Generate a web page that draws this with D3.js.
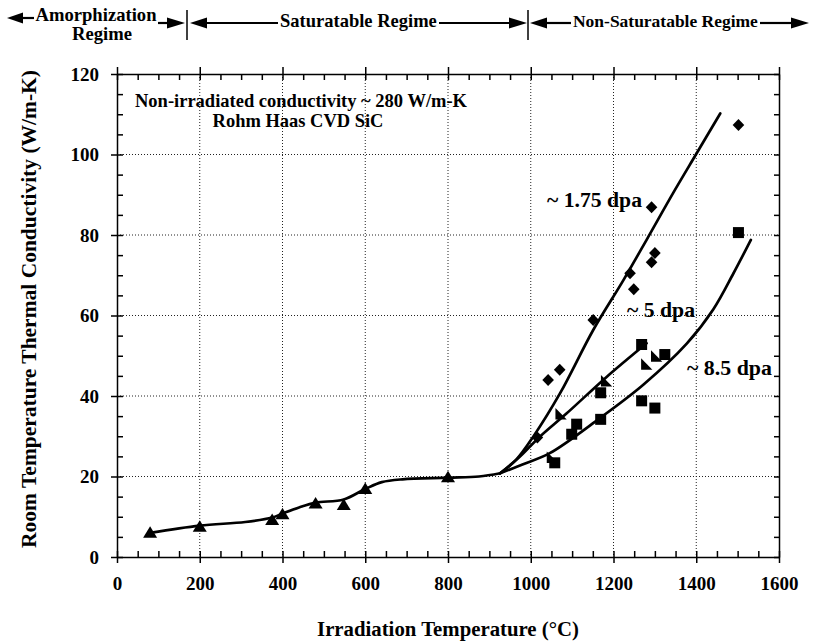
<!DOCTYPE html>
<html><head><meta charset="utf-8">
<script src="https://cdnjs.cloudflare.com/ajax/libs/d3/7.8.5/d3.min.js"></script>
<style>body{margin:0;background:#fff}svg{display:block}</style>
</head><body>
<svg id="c" width="813" height="642"></svg>
<script>
// ---------- data ----------
const xTicks = [0,200,400,600,800,1000,1200,1400,1600];
const yTicks = [0,20,40,60,80,100,120];
// Saturatable regime (measured points, triangles)
const satPoints = [[80,6.0],[200,7.5],[375,9.2],[400,10.6],[480,13.3],[548,12.9],[600,16.9],[800,19.8]];
// Saturatable fit curve
const satCurve = [[80,6.0],[200,7.8],[310,8.7],[375,9.8],[400,10.8],[440,12.3],[480,13.5],[548,14.3],[600,16.9],[640,18.6],[690,19.3],[800,19.7],[875,20.0],[926,20.8]];
// Non-saturatable regime curves
const curve175 = [[926,20.8],[965,24.2],[1006,29.9],[1071,40.7],[1151,56.4],[1224,68.8],[1280,78.8],[1344,90.4],[1401,100.3],[1458,110.2]];
const curve5 = [[926,20.8],[970,24.6],[1022,29.9],[1087,35.7],[1184,44.8],[1280,53.1]];
const curve85 = [[926,20.8],[980,23.0],[1046,25.8],[1167,34.5],[1272,42.8],[1377,53.0],[1441,61.5],[1490,70.5],[1532,78.8]];
// Non-saturatable data
const diamonds = [[1016,29.7],[1042,44.0],[1070,46.5],[1151,58.9],[1240,70.5],[1249,66.5],[1292,73.2],[1300,75.5],[1292,86.9],[1502,107.3]];
const squares = [[1058,23.4],[1099,30.5],[1111,33.0],[1169,34.2],[1169,40.8],[1268,52.8],[1324,50.3],[1268,38.8],[1300,37.0],[1502,80.6]];
const triangles5 = [[1052,24.7],[1073,35.5],[1183,43.7],[1280,47.9],[1304,49.9]];
const curveLabels = ["~ 1.75 dpa","~ 5 dpa","~ 8.5 dpa"];
const noteLines = ["Non-irradiated conductivity ~ 280 W/m-K","Rohm Haas CVD SiC"];
const regimes = ["Amorphization","Regime","Saturatable Regime","Non-Saturatable Regime"];
const xTitle = "Irradiation Temperature (°C)";
const yTitle = "Room Temperature Thermal Conductivity (W/m-K)";

// ---------- layout ----------
const FONT = "'Liberation Serif', 'Times New Roman', serif";
const svg = d3.select("#c");
const L=117, R=779, T=74, B=557;
const x = d3.scaleLinear().domain([0,1600]).range([L,R]);
const y = d3.scaleLinear().domain([0,120]).range([B,T]);

function fit(sel, w){
  const l = sel.node().getComputedTextLength();
  const fs = parseFloat(sel.attr("font-size"));
  sel.attr("font-size", (fs*w/l).toFixed(2));
  return sel;
}
function txt(g, s, px, py, fs, anchor){
  return g.append("text").attr("x",px).attr("y",py).attr("font-family",FONT)
    .attr("font-weight","bold").attr("font-size",fs).attr("text-anchor",anchor||"start")
    .attr("fill","#000").text(s);
}

// gridlines
const grid = svg.append("g");
grid.selectAll("line.v").data(xTicks.filter(d=>d>0&&d<1600)).join("line")
  .attr("x1",d=>x(d)).attr("x2",d=>x(d)).attr("y1",T).attr("y2",B)
  .attr("stroke","#222").attr("stroke-width",1).attr("stroke-dasharray","1,2");
grid.selectAll("line.h").data(yTicks.filter(d=>d>0&&d<120)).join("line")
  .attr("y1",d=>y(d)).attr("y2",d=>y(d)).attr("x1",L).attr("x2",R)
  .attr("stroke","#222").attr("stroke-width",1).attr("stroke-dasharray","1,2");

// axes
const minorX = d3.range(0,1601,50).filter(d=>d%200!==0);
const minorY = d3.range(0,121,5).filter(d=>d%20!==0);
function styleAxis(g){ g.select(".domain").attr("stroke","#000").attr("stroke-width",1.5);
  g.selectAll(".tick line").attr("stroke","#000").attr("stroke-width",1.5); }

const gB = svg.append("g").attr("transform",`translate(0,${B})`)
  .call(d3.axisBottom(x).tickValues(xTicks).tickSize(6).tickPadding(14).tickSizeOuter(0).tickFormat(d3.format("d")));
gB.selectAll(".tick line").attr("y1",-6);
gB.selectAll(".tick text").attr("font-family",FONT).attr("font-weight","bold").attr("font-size",19).attr("fill","#000");
styleAxis(gB);
svg.append("g").attr("transform",`translate(0,${B})`)
  .call(d3.axisBottom(x).tickValues(minorX).tickSize(-6).tickFormat("").tickSizeOuter(0))
  .call(g=>{g.select(".domain").remove(); g.selectAll("line").attr("stroke","#000").attr("stroke-width",1.5);});

const gT = svg.append("g").attr("transform",`translate(0,${T})`)
  .call(d3.axisTop(x).tickValues(xTicks).tickSize(7).tickFormat("").tickSizeOuter(0));
gT.selectAll(".tick line").attr("y1",6);
styleAxis(gT);
svg.append("g").attr("transform",`translate(0,${T})`)
  .call(d3.axisTop(x).tickValues(minorX).tickSize(-6).tickFormat("").tickSizeOuter(0))
  .call(g=>{g.select(".domain").remove(); g.selectAll("line").attr("stroke","#000").attr("stroke-width",1.5);});

const gL = svg.append("g").attr("transform",`translate(${L},0)`)
  .call(d3.axisLeft(y).tickValues(yTicks).tickSize(6).tickPadding(12).tickSizeOuter(0).tickFormat(d3.format("d")));
gL.selectAll(".tick line").attr("x1",6);
gL.selectAll(".tick text").attr("font-family",FONT).attr("font-weight","bold").attr("font-size",19).attr("fill","#000");
styleAxis(gL);
svg.append("g").attr("transform",`translate(${L},0)`)
  .call(d3.axisLeft(y).tickValues(minorY).tickSize(-6).tickFormat("").tickSizeOuter(0))
  .call(g=>{g.select(".domain").remove(); g.selectAll("line").attr("stroke","#000").attr("stroke-width",1.5);});

const gR = svg.append("g").attr("transform",`translate(${R},0)`)
  .call(d3.axisRight(y).tickValues(d3.range(0,121,5)).tickSize(-5).tickFormat("").tickSizeOuter(0));
styleAxis(gR);

// curves
const line = d3.line().x(d=>x(d[0])).y(d=>y(d[1])).curve(d3.curveCatmullRom.alpha(0.5));
const curves = svg.append("g").attr("fill","none").attr("stroke","#000").attr("stroke-width",2.7)
  .attr("stroke-linejoin","round").attr("stroke-linecap","round");
[satCurve, curve175, curve5, curve85].forEach(c=>curves.append("path").attr("d",line(c)));

// markers
const shapes = {
  triUp: "M0,-6.5L7,5L-7,5Z",
  diamond: "M0,-6L5.8,0L0,6L-5.8,0Z",
  square: "M-5.5,-5.5H5.5V5.5H-5.5Z",
  triCorner: "M-5.5,-6L5.8,5.5L-5.5,5.5Z"
};
function marks(data, shape){
  svg.append("g").selectAll("path").data(data).join("path")
    .attr("d",shapes[shape]).attr("fill","#000")
    .attr("transform",d=>`translate(${x(d[0])},${y(d[1])})`);
}
marks(satPoints,"triUp");
marks(diamonds,"diamond");
marks(squares,"square");
marks(triangles5,"triCorner");

// curve labels
const lab = svg.append("g");
fit(txt(lab, curveLabels[0], 547, 207, 17), 95);
fit(txt(lab, curveLabels[1], 627, 317, 17), 68);
fit(txt(lab, curveLabels[2], 687, 375, 17), 85);

// note
fit(txt(svg, noteLines[0], 301, 107, 18, "middle"), 332);
fit(txt(svg, noteLines[1], 298, 127, 18, "middle"), 171);

// axis titles
fit(txt(svg, xTitle, (L+R)/2, 636, 20, "middle"), 262);
const yt = txt(svg, yTitle, 0, 0, 18.5, "middle").attr("transform","translate(36,309) rotate(-90)");
fit(yt, 478);

// regime header
const hdr = svg.append("g");
function hline(x1,x2,yy){ hdr.append("line").attr("x1",x1).attr("x2",x2).attr("y1",yy).attr("y2",yy).attr("stroke","#000").attr("stroke-width",2.2); }
function head(tip, base, yy){ hdr.append("path").attr("d",`M${tip},${yy}L${base},${yy-5.5}L${base},${yy+5.5}Z`).attr("fill","#000"); }
function vline(xx){ hdr.append("line").attr("x1",xx).attr("x2",xx).attr("y1",10).attr("y2",40).attr("stroke","#000").attr("stroke-width",1.5); }
// amorphization
head(7,23,18); hline(22,34,18);
const am = fit(txt(hdr, regimes[0], 96, 21, 17, "middle"), 121);
txt(hdr, regimes[1], 102, 40, am.attr("font-size"), "middle");
hline(158,168,23); head(185,167,23);
vline(187);
// saturatable
head(190,207,23); hline(206,278,23);
fit(txt(hdr, regimes[2], 280, 27, 18), 157);
hline(439,510,23); head(527,509,23);
vline(528);
// non-saturatable
head(530,547,23); hline(546,571,23);
fit(txt(hdr, regimes[3], 573, 27, 18), 185);
hline(760,791,23); head(809,791,23);
</script>
</body></html>
